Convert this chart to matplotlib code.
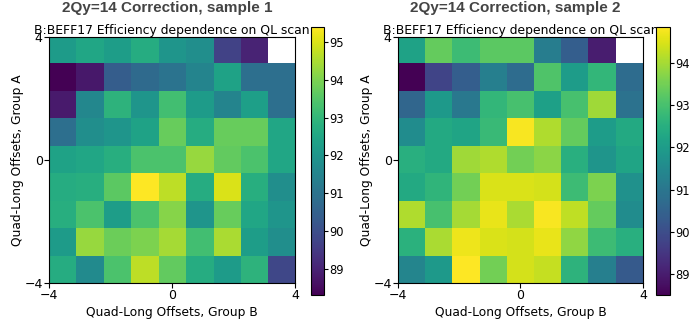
import matplotlib
matplotlib.use('Agg')
import matplotlib.pyplot as plt
import numpy as np

nan = np.nan
# efficiency values, rows from top (Group A = 4) to bottom (Group A = -4)
sample1 = [
    [92.2, 92.5, 92.25, 92.7, 92.0, 91.8, 89.7, 89.0, nan],
    [88.3, 88.75, 90.4, 90.75, 91.0, 91.5, 92.4, 90.9, 90.9],
    [88.8, 91.6, 92.9, 92.0, 93.25, 92.2, 91.5, 92.3, 90.9],
    [90.9, 91.8, 92.0, 92.4, 93.75, 92.7, 93.75, 93.75, 92.5],
    [92.4, 92.5, 92.75, 93.4, 93.4, 94.3, 93.7, 93.4, 92.5],
    [92.7, 92.75, 93.6, 95.4, 94.7, 92.7, 95.0, 92.75, 91.8],
    [92.75, 93.4, 92.25, 93.4, 94.1, 92.0, 93.75, 92.5, 92.0],
    [92.2, 94.3, 93.8, 94.0, 94.45, 93.25, 94.5, 92.25, 91.8],
    [92.7, 91.7, 93.4, 94.7, 93.7, 92.7, 92.2, 92.9, 89.8],
]
sample2 = [
    [92.15, 93.35, 92.85, 93.25, 93.25, 91.2, 90.4, 89.0, nan],
    [88.5, 89.8, 90.4, 91.25, 90.75, 93.1, 92.0, 92.7, 90.75],
    [90.6, 91.9, 91.05, 92.7, 93.0, 92.1, 93.0, 93.95, 90.9],
    [91.6, 92.35, 92.2, 92.8, 94.8, 94.1, 93.35, 92.0, 92.35],
    [92.5, 92.35, 93.95, 94.1, 93.5, 93.75, 92.5, 91.8, 92.2],
    [92.35, 92.65, 93.5, 94.5, 94.5, 94.45, 92.85, 93.6, 91.7],
    [94.1, 93.0, 94.0, 94.65, 94.05, 94.8, 94.25, 93.35, 91.6],
    [92.55, 94.05, 94.7, 94.5, 94.45, 94.65, 93.8, 92.85, 92.5],
    [91.4, 91.9, 94.85, 93.5, 94.45, 94.3, 92.6, 91.25, 90.3],
]
titles = ['2Qy=14 Correction, sample 1', '2Qy=14 Correction, sample 2']
subtitle = 'B:BEFF17 Efficiency dependence on QL scan'
ticks = [-4, 0, 4]

fig = plt.figure(figsize=(6.92, 3.25), dpi=100)
ax_pos = [[0.0708, 0.129, 0.3555, 0.757], [0.575, 0.129, 0.354, 0.757]]
cb_pos = [[0.449, 0.092, 0.0188, 0.825], [0.948, 0.092, 0.0200, 0.825]]
title_x = [0.242, 0.745]

for data, title, ap, cp, tx in zip([sample1, sample2], titles, ax_pos, cb_pos, title_x):
    ax = fig.add_axes(ap)
    arr = np.array(data)
    im = ax.imshow(arr, cmap='viridis', extent=[-4, 4, -4, 4], aspect='auto',
                   interpolation='nearest')
    ax.set_xticks(ticks)
    ax.set_yticks(ticks)
    ax.tick_params(labelsize=9, pad=1)
    ax.set_xlabel('Quad-Long Offsets, Group B', fontsize=8.8, labelpad=3)
    ax.set_ylabel('Quad-Long Offsets, Group A', fontsize=8.8, labelpad=0)
    ax.set_title(subtitle, fontsize=8.9, pad=1.5)
    fig.text(tx, 0.976, title, ha='center', va='center', fontsize=11,
             fontweight='bold', color='#444444', family='Liberation Sans')
    cax = fig.add_axes(cp)
    cb = fig.colorbar(im, cax=cax)
    cb.ax.tick_params(labelsize=8.3, pad=1, length=3)

plt.savefig('out.png', dpi=100)
